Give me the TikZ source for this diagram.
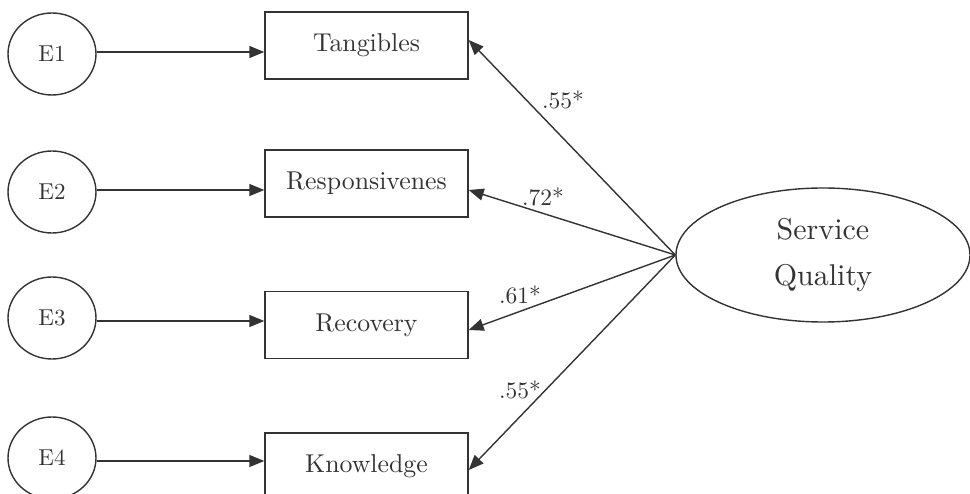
\documentclass[tikz,border=0pt]{standalone}
\usepackage{fontspec}
\setmainfont{lmroman10-regular.otf}
\usetikzlibrary{arrows.meta,shapes.geometric}
\definecolor{ink}{HTML}{333333}
\begin{document}
\begin{tikzpicture}[x=1pt,y=-1pt,
  ink/.style={draw=ink,line width=1.4pt},
  errnode/.style={ink,ellipse,minimum width=88pt,minimum height=82pt,inner sep=0pt,
    font=\fontsize{23}{26}\selectfont,text=ink},
  indbox/.style={ink,rectangle,minimum width=203pt,minimum height=67pt,inner sep=0pt,
    font=\fontsize{25.8}{30}\selectfont,text=ink},
  latent/.style={ink,ellipse,minimum width=294pt,minimum height=134pt,inner sep=0pt,
    align=center,font=\fontsize{30}{46}\selectfont,text=ink},
  arr/.style={ink,-{Triangle[length=15pt,width=12pt]}},
  coef/.style={font=\fontsize{23.5}{26}\selectfont,text=ink,inner sep=0pt}]
\useasboundingbox (0,0) rectangle (970,494);
\begin{scope}
\clip (0,0) rectangle (970,494);
% error terms
\node[errnode] (e1) at (52,54) {E1};
\node[errnode] (e2) at (52,192) {E2};
\node[errnode] (e3) at (52,318) {E3};
\node[errnode] (e4) at (52,458) {E4};
% observed indicators
\node[indbox] (t1) at (366.5,45.5) {Tangibles};
\node[indbox] (t2) at (366.5,183.5) {Responsivenes};
\node[indbox] (t3) at (366.5,325) {Recovery};
\node[indbox] (t4) at (366.5,466.5) {Knowledge};
% latent construct
\node[latent] (sq) at (823,255) {Service\\Quality};
% error paths
\draw[arr] (e1.east |- 0,52) -- (t1.west |- 0,52);
\draw[arr] (e2.east |- 0,190) -- (t2.west |- 0,190);
\draw[arr] (e3.east |- 0,321) -- (t3.west |- 0,321);
\draw[arr] (e4.east |- 0,461) -- (t4.west |- 0,461);
% loadings
\draw[arr] (sq.west) -- ([yshift=5.5pt]t1.east);
\draw[arr] (sq.west) -- ([yshift=-6.5pt]t2.east);
\draw[arr] (sq.west) -- ([yshift=-5pt]t3.east);
\draw[arr] (sq.west) -- ([yshift=-3.5pt]t4.east);
\node[coef] (l1) at (563,100) {.55*};
\node[coef] (l2) at (543,197) {.72*};
\node[coef] (l3) at (520,295) {.61*};
\node[coef] (l4) at (520,390) {.55*};
\end{scope}
\end{tikzpicture}
\end{document}
